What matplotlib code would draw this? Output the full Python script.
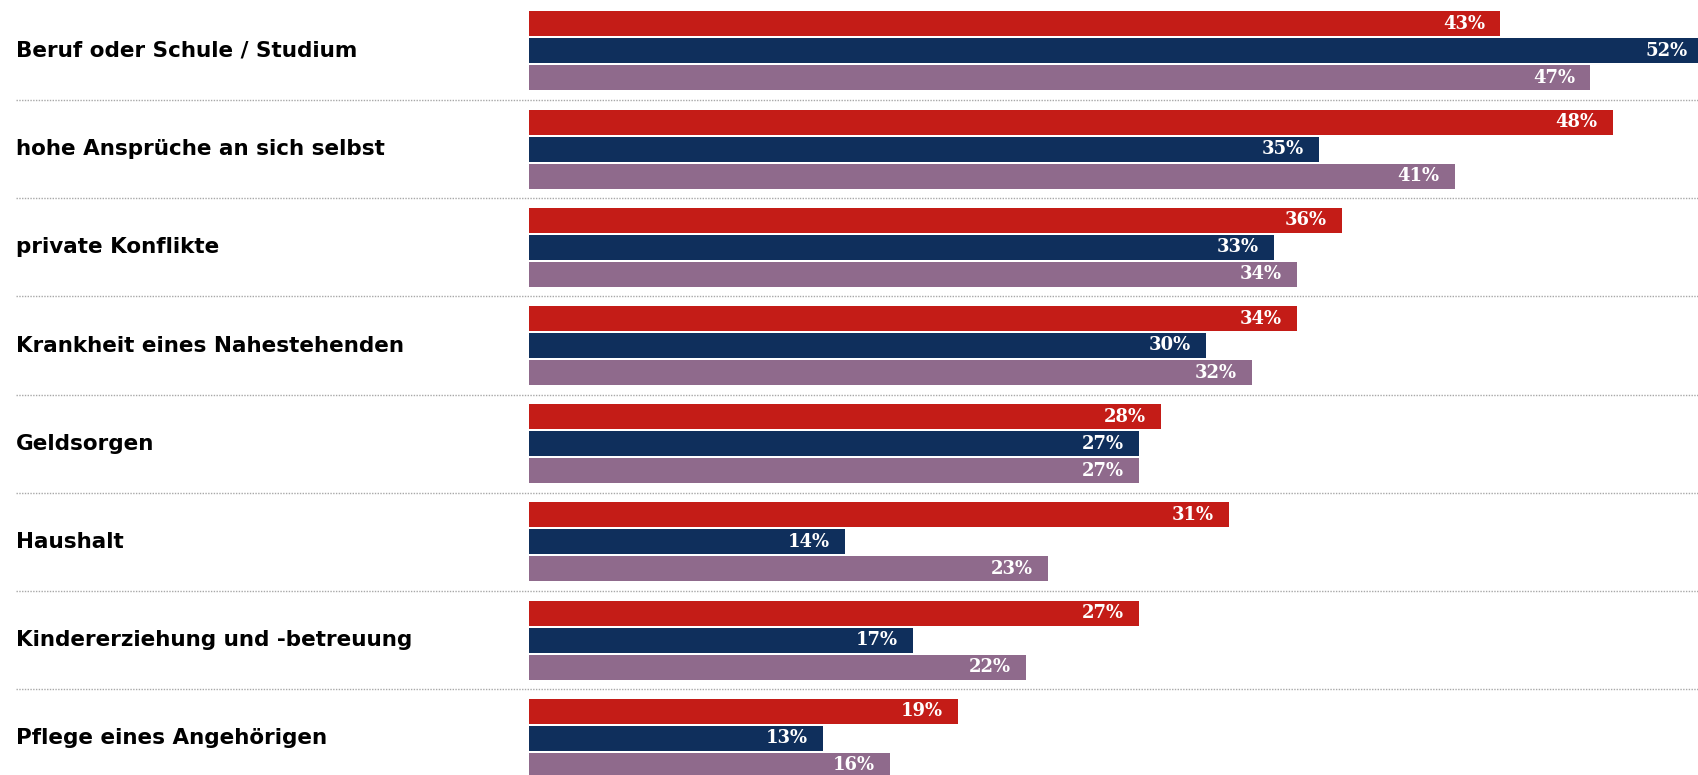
import matplotlib
matplotlib.use("Agg")
import matplotlib.pyplot as plt
from matplotlib import transforms

categories = [
    "Beruf oder Schule / Studium",
    "hohe Ansprüche an sich selbst",
    "private Konflikte",
    "Krankheit eines Nahestehenden",
    "Geldsorgen",
    "Haushalt",
    "Kindererziehung und -betreuung",
    "Pflege eines Angehörigen",
]
series_red = [43, 48, 36, 34, 28, 31, 27, 19]
series_navy = [52, 35, 33, 30, 27, 14, 17, 13]
series_purple = [47, 41, 34, 32, 27, 23, 22, 16]

series = [series_red, series_navy, series_purple]
colors = ["#C41C17", "#0F2F5C", "#8F6A8C"]

W, H = 1699, 775
fig = plt.figure(figsize=(W / 100, H / 100), dpi=100)
ax_left = 529 / W
ax = fig.add_axes([ax_left, 0, 1 - ax_left, 1])
ax.set_axis_off()

px_per_pct = 22.58
ax.set_xlim(0, (W - 529) / px_per_pct)
group_px = 98.2
ax.set_ylim((H - 50.9) / group_px, -50.9 / group_px)

bar_step = 27 / group_px
bar_h = 25 / group_px

for j, (vals, col) in enumerate(zip(series, colors)):
    for i, v in enumerate(vals):
        y = i + (j - 1) * bar_step
        ax.barh(y, v, height=bar_h, color=col, edgecolor="none")
        ax.annotate(f"{v}%", xy=(v, y), xytext=(-15, 0), textcoords="offset pixels",
                    ha="right", va="center", color="white", fontsize=13,
                    family="DejaVu Serif", fontweight="bold", annotation_clip=False)

blend = transforms.blended_transform_factory(fig.transFigure, ax.transData)
for i, cat in enumerate(categories):
    ax.text(16 / W, i, cat, transform=blend, ha="left", va="center",
            fontsize=15.5, fontweight="bold", family="DejaVu Sans", color="#000000",
            clip_on=False)

for i in range(len(categories) - 1):
    ax.plot([16 / W, 1.0], [i + 0.5, i + 0.5], transform=blend, color="#a8a8a8",
            linestyle=(0, (1, 1)), linewidth=1.0, clip_on=False)

fig.savefig("out.png", dpi=100, facecolor="white")
